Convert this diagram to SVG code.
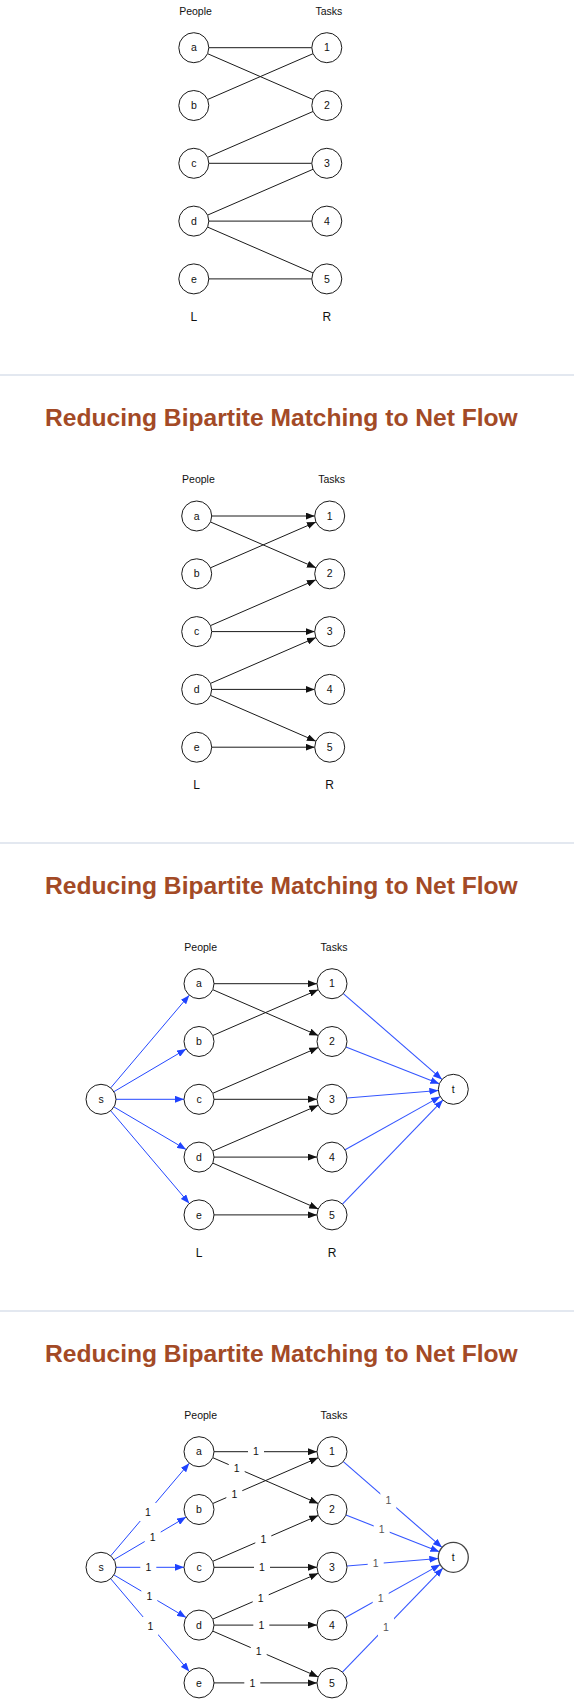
<svg xmlns="http://www.w3.org/2000/svg" width="574" height="1700" viewBox="0 0 574 1700">
<style>
text{font-family:"Liberation Sans",Arial,Helvetica,sans-serif;fill:#111}
.n circle{fill:#fff;stroke:#1a1a1a;stroke-width:1}
.n text{font-size:10.5px;text-anchor:middle}
.e{stroke:#1a1a1a;stroke-width:1;fill:none}
.b{stroke:#2448ff;stroke-width:1;fill:none}
.bt{stroke:#3556ff;stroke-width:1.1;fill:none}
.title{font-size:24.6px;font-weight:bold;fill:#a34a26}
.hdr{font-size:10.5px;text-anchor:middle}
.lr{font-size:12px;text-anchor:middle}
.sep{stroke:#e3e8f0;stroke-width:2}
.lb rect{fill:#fff}
.lb text{font-size:10.5px;text-anchor:middle}
.lbt text{fill:#555}
</style>
<defs>
<marker id="ab" markerWidth="9" markerHeight="7" refX="9" refY="3.5" orient="auto" markerUnits="userSpaceOnUse"><path d="M0,0 L9,3.5 L0,7 z" fill="#111"/></marker>
<marker id="au" markerWidth="9" markerHeight="7" refX="9" refY="3.5" orient="auto" markerUnits="userSpaceOnUse"><path d="M0,0 L9,3.5 L0,7 z" fill="#1f43ff"/></marker>
</defs>
<rect width="574" height="1700" fill="#fff"/>

<g id="separators">
<line class="sep" x1="0" y1="375" x2="574" y2="375"/>
<line class="sep" x1="0" y1="843" x2="574" y2="843"/>
<line class="sep" x1="0" y1="1311" x2="574" y2="1311"/>
</g>
<g id="titles">
<text class="title" x="45" y="426">Reducing Bipartite Matching to Net Flow</text>
<text class="title" x="45" y="894">Reducing Bipartite Matching to Net Flow</text>
<text class="title" x="45" y="1362">Reducing Bipartite Matching to Net Flow</text>
</g>

<!-- Panel 1 -->
<g id="panel1" transform="translate(-5.2,-936)">
<text class="hdr" x="200.7" y="950.7">People</text>
<text class="hdr" x="334" y="950.7">Tasks</text>
<text class="lr" x="199" y="1256.6">L</text>
<text class="lr" x="332" y="1256.6">R</text>
<g id="p1-connectors">
<path class="e" d="M214,983.7 L317,983.7"/>
<path class="e" d="M212.76,989.68 L318.24,1035.52"/>
<path class="e" d="M212.76,1035.52 L318.24,989.68"/>
<path class="e" d="M212.76,1093.32 L318.24,1047.48"/>
<path class="e" d="M214,1099.3 L317,1099.3"/>
<path class="e" d="M212.76,1151.12 L318.24,1105.28"/>
<path class="e" d="M214,1157.1 L317,1157.1"/>
<path class="e" d="M212.76,1163.08 L318.24,1208.92"/>
<path class="e" d="M214,1214.9 L317,1214.9"/>
</g>
<g id="p1-a" class="n"><circle cx="199" cy="983.7" r="15"/><text x="199" y="987.4">a</text></g>
<g id="p1-b" class="n"><circle cx="199" cy="1041.5" r="15"/><text x="199" y="1045.2">b</text></g>
<g id="p1-c" class="n"><circle cx="199" cy="1099.3" r="15"/><text x="199" y="1103">c</text></g>
<g id="p1-d" class="n"><circle cx="199" cy="1157.1" r="15"/><text x="199" y="1160.8">d</text></g>
<g id="p1-e" class="n"><circle cx="199" cy="1214.9" r="15"/><text x="199" y="1218.6">e</text></g>
<g id="p1-1" class="n"><circle cx="332" cy="983.7" r="15"/><text x="332" y="987.4">1</text></g>
<g id="p1-2" class="n"><circle cx="332" cy="1041.5" r="15"/><text x="332" y="1045.2">2</text></g>
<g id="p1-3" class="n"><circle cx="332" cy="1099.3" r="15"/><text x="332" y="1103">3</text></g>
<g id="p1-4" class="n"><circle cx="332" cy="1157.1" r="15"/><text x="332" y="1160.8">4</text></g>
<g id="p1-5" class="n"><circle cx="332" cy="1214.9" r="15"/><text x="332" y="1218.6">5</text></g>
</g>

<!-- Panel 2 -->
<g id="panel2" transform="translate(-2.3,-467.7)">
<text class="hdr" x="200.7" y="950.7">People</text>
<text class="hdr" x="334" y="950.7">Tasks</text>
<text class="lr" x="199" y="1256.6">L</text>
<text class="lr" x="332" y="1256.6">R</text>
<g id="p2-connectors" marker-end="url(#ab)">
<path class="e" d="M214,983.7 L317,983.7" marker-end="url(#ab)"/>
<path class="e" d="M212.76,989.68 L318.24,1035.52" marker-end="url(#ab)"/>
<path class="e" d="M212.76,1035.52 L318.24,989.68" marker-end="url(#ab)"/>
<path class="e" d="M212.76,1093.32 L318.24,1047.48" marker-end="url(#ab)"/>
<path class="e" d="M214,1099.3 L317,1099.3" marker-end="url(#ab)"/>
<path class="e" d="M212.76,1151.12 L318.24,1105.28" marker-end="url(#ab)"/>
<path class="e" d="M214,1157.1 L317,1157.1" marker-end="url(#ab)"/>
<path class="e" d="M212.76,1163.08 L318.24,1208.92" marker-end="url(#ab)"/>
<path class="e" d="M214,1214.9 L317,1214.9" marker-end="url(#ab)"/>
</g>
<g id="p2-a" class="n"><circle cx="199" cy="983.7" r="15"/><text x="199" y="987.4">a</text></g>
<g id="p2-b" class="n"><circle cx="199" cy="1041.5" r="15"/><text x="199" y="1045.2">b</text></g>
<g id="p2-c" class="n"><circle cx="199" cy="1099.3" r="15"/><text x="199" y="1103">c</text></g>
<g id="p2-d" class="n"><circle cx="199" cy="1157.1" r="15"/><text x="199" y="1160.8">d</text></g>
<g id="p2-e" class="n"><circle cx="199" cy="1214.9" r="15"/><text x="199" y="1218.6">e</text></g>
<g id="p2-1" class="n"><circle cx="332" cy="983.7" r="15"/><text x="332" y="987.4">1</text></g>
<g id="p2-2" class="n"><circle cx="332" cy="1041.5" r="15"/><text x="332" y="1045.2">2</text></g>
<g id="p2-3" class="n"><circle cx="332" cy="1099.3" r="15"/><text x="332" y="1103">3</text></g>
<g id="p2-4" class="n"><circle cx="332" cy="1157.1" r="15"/><text x="332" y="1160.8">4</text></g>
<g id="p2-5" class="n"><circle cx="332" cy="1214.9" r="15"/><text x="332" y="1218.6">5</text></g>
</g>

<!-- Panel 3 -->
<g id="panel3">
<text class="hdr" x="200.7" y="950.7">People</text>
<text class="hdr" x="334" y="950.7">Tasks</text>
<text class="lr" x="199" y="1256.6">L</text>
<text class="lr" x="332" y="1256.6">R</text>
<g id="p3-connectors">
<path class="e" d="M214,983.7 L317,983.7" marker-end="url(#ab)"/>
<path class="e" d="M212.76,989.68 L318.24,1035.52" marker-end="url(#ab)"/>
<path class="e" d="M212.76,1035.52 L318.24,989.68" marker-end="url(#ab)"/>
<path class="e" d="M212.76,1093.32 L318.24,1047.48" marker-end="url(#ab)"/>
<path class="e" d="M214,1099.3 L317,1099.3" marker-end="url(#ab)"/>
<path class="e" d="M212.76,1151.12 L318.24,1105.28" marker-end="url(#ab)"/>
<path class="e" d="M214,1157.1 L317,1157.1" marker-end="url(#ab)"/>
<path class="e" d="M212.76,1163.08 L318.24,1208.92" marker-end="url(#ab)"/>
<path class="e" d="M214,1214.9 L317,1214.9" marker-end="url(#ab)"/>
<path class="b" d="M110.7,1087.86 L189.3,995.14" marker-end="url(#au)"/>
<path class="b" d="M113.92,1091.68 L186.08,1049.12" marker-end="url(#au)"/>
<path class="b" d="M116,1099.3 L184,1099.3" marker-end="url(#au)"/>
<path class="b" d="M113.92,1106.92 L186.08,1149.48" marker-end="url(#au)"/>
<path class="b" d="M110.7,1110.74 L189.3,1203.46" marker-end="url(#au)"/>
<path class="bt" d="M343.31,993.55 L441.99,1079.45" marker-end="url(#au)"/>
<path class="bt" d="M345.96,1047 L439.34,1083.8" marker-end="url(#au)"/>
<path class="bt" d="M346.95,1098.07 L438.35,1090.53" marker-end="url(#au)"/>
<path class="bt" d="M345.09,1149.78 L440.21,1096.62" marker-end="url(#au)"/>
<path class="bt" d="M342.42,1204.11 L442.88,1100.09" marker-end="url(#au)"/>
</g>
<g id="p3-s" class="n"><circle cx="101" cy="1099.3" r="15"/><text x="101" y="1103">s</text></g>
<g id="p3-t" class="n"><circle cx="453.3" cy="1089.3" r="15"/><text x="453.3" y="1093">t</text></g>
<g id="p3-a" class="n"><circle cx="199" cy="983.7" r="15"/><text x="199" y="987.4">a</text></g>
<g id="p3-b" class="n"><circle cx="199" cy="1041.5" r="15"/><text x="199" y="1045.2">b</text></g>
<g id="p3-c" class="n"><circle cx="199" cy="1099.3" r="15"/><text x="199" y="1103">c</text></g>
<g id="p3-d" class="n"><circle cx="199" cy="1157.1" r="15"/><text x="199" y="1160.8">d</text></g>
<g id="p3-e" class="n"><circle cx="199" cy="1214.9" r="15"/><text x="199" y="1218.6">e</text></g>
<g id="p3-1" class="n"><circle cx="332" cy="983.7" r="15"/><text x="332" y="987.4">1</text></g>
<g id="p3-2" class="n"><circle cx="332" cy="1041.5" r="15"/><text x="332" y="1045.2">2</text></g>
<g id="p3-3" class="n"><circle cx="332" cy="1099.3" r="15"/><text x="332" y="1103">3</text></g>
<g id="p3-4" class="n"><circle cx="332" cy="1157.1" r="15"/><text x="332" y="1160.8">4</text></g>
<g id="p3-5" class="n"><circle cx="332" cy="1214.9" r="15"/><text x="332" y="1218.6">5</text></g>
</g>

<!-- Panel 4 -->
<g id="panel4" transform="translate(0,468)">
<text class="hdr" x="200.7" y="950.7">People</text>
<text class="hdr" x="334" y="950.7">Tasks</text>
<g id="p4-connectors">
<path class="e" d="M214,983.7 L317,983.7" marker-end="url(#ab)"/>
<path class="e" d="M212.76,989.68 L318.24,1035.52" marker-end="url(#ab)"/>
<path class="e" d="M212.76,1035.52 L318.24,989.68" marker-end="url(#ab)"/>
<path class="e" d="M212.76,1093.32 L318.24,1047.48" marker-end="url(#ab)"/>
<path class="e" d="M214,1099.3 L317,1099.3" marker-end="url(#ab)"/>
<path class="e" d="M212.76,1151.12 L318.24,1105.28" marker-end="url(#ab)"/>
<path class="e" d="M214,1157.1 L317,1157.1" marker-end="url(#ab)"/>
<path class="e" d="M212.76,1163.08 L318.24,1208.92" marker-end="url(#ab)"/>
<path class="e" d="M214,1214.9 L317,1214.9" marker-end="url(#ab)"/>
<path class="b" d="M110.7,1087.86 L189.3,995.14" marker-end="url(#au)"/>
<path class="b" d="M113.92,1091.68 L186.08,1049.12" marker-end="url(#au)"/>
<path class="b" d="M116,1099.3 L184,1099.3" marker-end="url(#au)"/>
<path class="b" d="M113.92,1106.92 L186.08,1149.48" marker-end="url(#au)"/>
<path class="b" d="M110.7,1110.74 L189.3,1203.46" marker-end="url(#au)"/>
<path class="bt" d="M343.31,993.55 L441.99,1079.45" marker-end="url(#au)"/>
<path class="bt" d="M345.96,1047 L439.34,1083.8" marker-end="url(#au)"/>
<path class="bt" d="M346.95,1098.07 L438.35,1090.53" marker-end="url(#au)"/>
<path class="bt" d="M345.09,1149.78 L440.21,1096.62" marker-end="url(#au)"/>
<path class="bt" d="M342.42,1204.11 L442.88,1100.09" marker-end="url(#au)"/>
<g class="lb">
<rect x="140" y="1035" width="16" height="18"/><text x="148" y="1047.7">1</text>
<rect x="144.7" y="1059.8" width="16" height="18"/><text x="152.7" y="1072.5">1</text>
<rect x="140.3" y="1090.3" width="16" height="18"/><text x="148.3" y="1103">1</text>
<rect x="141.3" y="1119.2" width="16" height="18"/><text x="149.3" y="1131.9">1</text>
<rect x="142.3" y="1149" width="16" height="18"/><text x="150.3" y="1161.7">1</text>
<rect x="248" y="974.7" width="16" height="18"/><text x="256" y="987.4">1</text>
<rect x="228.7" y="991.1" width="16" height="18"/><text x="236.7" y="1003.8">1</text>
<rect x="226.3" y="1017.2" width="16" height="18"/><text x="234.3" y="1029.9">1</text>
<rect x="255.3" y="1062.4" width="16" height="18"/><text x="263.3" y="1075.1">1</text>
<rect x="254" y="1090.3" width="16" height="18"/><text x="262" y="1103">1</text>
<rect x="252.7" y="1121.3" width="16" height="18"/><text x="260.7" y="1134">1</text>
<rect x="253.3" y="1148.1" width="16" height="18"/><text x="261.3" y="1160.8">1</text>
<rect x="250.7" y="1174" width="16" height="18"/><text x="258.7" y="1186.7">1</text>
<rect x="244.3" y="1205.9" width="16" height="18"/><text x="252.3" y="1218.6">1</text>
</g>
<g class="lb lbt">
<rect x="380.3" y="1023.7" width="16" height="18"/><text x="388.3" y="1036.4">1</text>
<rect x="373.7" y="1052.1" width="16" height="18"/><text x="381.7" y="1064.8">1</text>
<rect x="367.7" y="1086.7" width="16" height="18"/><text x="375.7" y="1099.4">1</text>
<rect x="372.7" y="1120.9" width="16" height="18"/><text x="380.7" y="1133.6">1</text>
<rect x="378" y="1150" width="16" height="18"/><text x="386" y="1162.7">1</text>
</g>
</g>
<g id="p4-s" class="n"><circle cx="101" cy="1099.3" r="15"/><text x="101" y="1103">s</text></g>
<g id="p4-t" class="n"><circle cx="453.3" cy="1089.3" r="15" style="stroke:#444;stroke-width:1.3"/><text x="453.3" y="1093">t</text></g>
<g id="p4-a" class="n"><circle cx="199" cy="983.7" r="15"/><text x="199" y="987.4">a</text></g>
<g id="p4-b" class="n"><circle cx="199" cy="1041.5" r="15"/><text x="199" y="1045.2">b</text></g>
<g id="p4-c" class="n"><circle cx="199" cy="1099.3" r="15"/><text x="199" y="1103">c</text></g>
<g id="p4-d" class="n"><circle cx="199" cy="1157.1" r="15"/><text x="199" y="1160.8">d</text></g>
<g id="p4-e" class="n"><circle cx="199" cy="1214.9" r="15"/><text x="199" y="1218.6">e</text></g>
<g id="p4-1" class="n"><circle cx="332" cy="983.7" r="15"/><text x="332" y="987.4">1</text></g>
<g id="p4-2" class="n"><circle cx="332" cy="1041.5" r="15"/><text x="332" y="1045.2">2</text></g>
<g id="p4-3" class="n"><circle cx="332" cy="1099.3" r="15"/><text x="332" y="1103">3</text></g>
<g id="p4-4" class="n"><circle cx="332" cy="1157.1" r="15"/><text x="332" y="1160.8">4</text></g>
<g id="p4-5" class="n"><circle cx="332" cy="1214.9" r="15"/><text x="332" y="1218.6">5</text></g>
</g>
</svg>
